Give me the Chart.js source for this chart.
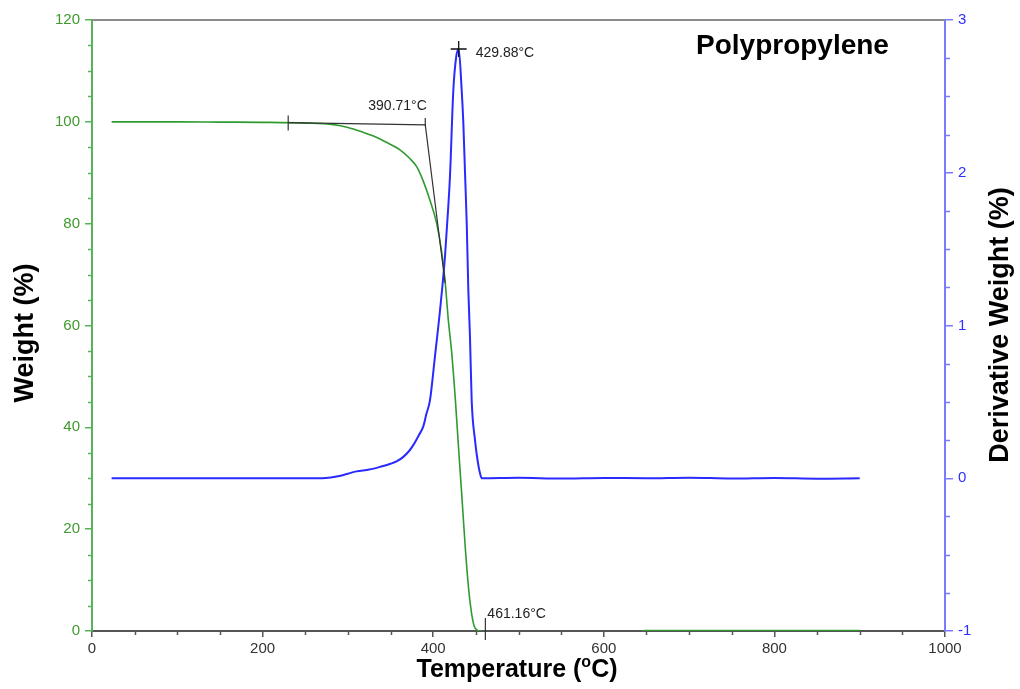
<!DOCTYPE html>
<html><head><meta charset="utf-8">
<script src="https://cdn.jsdelivr.net/npm/chart.js@4.4.0/dist/chart.umd.min.js"></script>
<style>html,body{margin:0;padding:0;background:#fff;}canvas{display:block;}</style>
</head><body>
<canvas id="c" width="1020" height="689"></canvas>
<script>
// ---- data ----
const weightTemp = [23, 100, 150, 200, 250, 283, 300, 317, 330, 345, 361, 372, 380.6, 388, 396.2, 404, 409.9, 413.8, 415.8, 417.7, 421.4, 426, 429.9, 433.9, 437.8, 441.7, 445.6, 448, 451.4, 455, 470, 640, 648, 900];
const weightPct  = [100, 100, 99.95, 99.9, 99.75, 99.45, 98.9, 98.0, 97.2, 96.0, 94.5, 92.9, 91.2, 88.5, 84.6, 80.1, 74.5, 69.0, 65.0, 61.1, 55.2, 45.4, 35.5, 25.7, 15.9, 8.0, 2.8, 1.0, 0.2, 0.0, -0.3, -0.3, 0.1, 0.1];

const derivTemp = [23, 100, 200, 270, 280, 290, 300, 310, 325, 338, 350, 357, 365, 372, 377, 383, 388.4, 392, 396.2, 402.1, 408, 413.8, 417.7, 419.7, 423.6, 427, 429.88, 433.4, 435.3, 437.3, 439.3, 441.2, 443.1, 445.1, 449, 452.5, 455, 457, 500, 550, 600, 650, 700, 750, 800, 850, 900];
const derivPct  = [0, 0, 0, 0, 0.005, 0.015, 0.03, 0.045, 0.057, 0.075, 0.095, 0.11, 0.14, 0.18, 0.22, 0.28, 0.34, 0.42, 0.51, 0.80, 1.10, 1.45, 1.78, 1.98, 2.54, 2.76, 2.81, 2.54, 2.33, 2.0, 1.67, 1.23, 0.93, 0.51, 0.25, 0.10, 0.03, 0, 0.003, -0.002, 0.002, 0, 0.004, -0.002, 0.002, -0.003, 0];

const onsetTemp   = [230, 390.71, 414];
const onsetWeight = [99.85, 99.4, 68.3];
const peakTemp  = [429.88];
const peakDeriv = [2.81];
const endTemp   = 461.16;

const chartTitle = 'Polypropylene';
const xTitle = 'Temperature (';
const xTitleSup = 'o';
const xTitleEnd = 'C)';
const yTitle = 'Weight (%)';
const y1Title = 'Derivative Weight (%)';
const onsetLabel = '390.71°C';
const peakLabel  = '429.88°C';
const endLabel   = '461.16°C';

const xRange = [0, 1000], xStep = 200, xMinor = 50;
const yRange = [0, 120], yStep = 20, yMinor = 5;
const y1Range = [-1, 3], y1Step = 1, y1Minor = 0.25;

const FONT = '"Liberation Sans", Arial, sans-serif';
const GREEN_AX = '#56b356', GREEN_TXT = '#3f9a2f', BLUE_AX = '#7a7aff', BLUE_TXT = '#2f2fff';

const pts = (xs, ys) => xs.map((v, i) => ({x: v, y: ys[i]}));

const decor = {
  id: 'decor',
  afterDraw(chart) {
    const {ctx, chartArea: a, scales: {x, y, y1}} = chart;
    ctx.save();
    ctx.strokeStyle = '#8c8c8c'; ctx.lineWidth = 2;
    ctx.beginPath(); ctx.moveTo(a.left, a.top); ctx.lineTo(a.right, a.top); ctx.stroke();
    ctx.lineWidth = 1.5;
    ctx.strokeStyle = GREEN_AX;
    for (let v = yRange[0]; v <= yRange[1]; v += yMinor) {
      if (v % yStep === 0) continue;
      const p = Math.round(y.getPixelForValue(v)) + 0.5;
      ctx.beginPath(); ctx.moveTo(a.left - 4, p); ctx.lineTo(a.left, p); ctx.stroke();
    }
    ctx.strokeStyle = BLUE_AX;
    for (let v = y1Range[0]; v <= y1Range[1] + 1e-9; v += y1Minor) {
      if (Math.abs(v - Math.round(v)) < 1e-9) continue;
      const p = Math.round(y1.getPixelForValue(v)) + 0.5;
      ctx.beginPath(); ctx.moveTo(a.right, p); ctx.lineTo(a.right + 5, p); ctx.stroke();
    }
    ctx.strokeStyle = '#555';
    for (let v = xRange[0]; v <= xRange[1]; v += xMinor) {
      if (v % xStep === 0) continue;
      const p = Math.round(x.getPixelForValue(v)) + 0.5;
      ctx.beginPath(); ctx.moveTo(p, a.bottom); ctx.lineTo(p, a.bottom + 4); ctx.stroke();
    }
    ctx.strokeStyle = '#333'; ctx.lineWidth = 1.2;
    const ox0 = x.getPixelForValue(onsetTemp[0]), oy0 = y.getPixelForValue(onsetWeight[0]);
    ctx.beginPath(); ctx.moveTo(ox0, oy0 - 7); ctx.lineTo(ox0, oy0 + 8); ctx.stroke();
    const ox1 = x.getPixelForValue(onsetTemp[1]), oy1 = y.getPixelForValue(onsetWeight[1]);
    ctx.beginPath(); ctx.moveTo(ox1, oy1 - 7); ctx.lineTo(ox1, oy1 + 1); ctx.stroke();
    const ex = x.getPixelForValue(endTemp);
    ctx.beginPath(); ctx.moveTo(ex, a.bottom - 13); ctx.lineTo(ex, a.bottom + 9); ctx.stroke();
    ctx.fillStyle = '#222'; ctx.font = '14px ' + FONT; ctx.textBaseline = 'middle'; ctx.textAlign = 'left';
    ctx.fillText(onsetLabel, ox1 - 57, oy1 - 19);
    const px = x.getPixelForValue(peakTemp[0]), py = y1.getPixelForValue(peakDeriv[0]);
    ctx.fillText(peakLabel, px + 17, py + 4);
    ctx.fillText(endLabel, ex + 2, a.bottom - 17);
    ctx.fillStyle = '#000'; ctx.font = 'bold 28px ' + FONT; ctx.textBaseline = 'alphabetic';
    ctx.fillText(chartTitle, 696, 54);
    ctx.font = 'bold 25px ' + FONT;
    const w1 = ctx.measureText(xTitle).width;
    ctx.font = 'bold 16px ' + FONT; const w2 = ctx.measureText(xTitleSup).width;
    ctx.font = 'bold 25px ' + FONT; const w3 = ctx.measureText(xTitleEnd).width;
    const sx = 517 - (w1 + w2 + w3) / 2;
    ctx.fillText(xTitle, sx, 677);
    ctx.font = 'bold 16px ' + FONT; ctx.fillText(xTitleSup, sx + w1, 667);
    ctx.font = 'bold 25px ' + FONT; ctx.fillText(xTitleEnd, sx + w1 + w2, 677);
    ctx.textAlign = 'center'; ctx.textBaseline = 'middle'; ctx.font = 'bold 27px ' + FONT;
    ctx.save(); ctx.translate(26, 333); ctx.rotate(-Math.PI / 2); ctx.fillText(yTitle, 0, 0); ctx.restore();
    ctx.save(); ctx.translate(1001, 325); ctx.rotate(-Math.PI / 2); ctx.fillText(y1Title, 0, 0); ctx.restore();
    ctx.restore();
  }
};

new Chart(document.getElementById('c'), {
  type: 'scatter',
  data: {
    datasets: [
      { label: 'onset', data: pts(onsetTemp, onsetWeight), showLine: true, yAxisID: 'y', borderColor: '#333', borderWidth: 1.2, pointRadius: 0, order: 0 },
      { label: 'peak', data: pts(peakTemp, peakDeriv), yAxisID: 'y1', pointStyle: 'cross', pointRadius: 8, pointBorderWidth: 1.3, borderColor: '#111', backgroundColor: '#111', order: 0, clip: false },
      { label: 'Derivative Weight', data: pts(derivTemp, derivPct), showLine: true, yAxisID: 'y1', borderColor: '#2a2aff', borderWidth: 2, pointRadius: 0, cubicInterpolationMode: 'monotone', order: 1 },
      { label: 'Weight', data: pts(weightTemp, weightPct), showLine: true, yAxisID: 'y', borderColor: '#2f9a2f', borderWidth: 1.6, pointRadius: 0, cubicInterpolationMode: 'monotone', order: 2 }
    ]
  },
  options: {
    responsive: false, animation: false,
    layout: { padding: { top: 20, left: 0, right: 0, bottom: 0 } },
    plugins: { legend: { display: false }, tooltip: { enabled: false } },
    scales: {
      x: {
        type: 'linear', position: 'bottom', min: xRange[0], max: xRange[1],
        ticks: { stepSize: xStep, color: '#333', font: { family: FONT, size: 15 }, padding: 3, maxRotation: 0, callback: v => String(v) },
        grid: { display: true, drawOnChartArea: false, drawTicks: true, tickLength: 6, color: '#555', lineWidth: 1.5 },
        border: { display: true, color: '#555', width: 2 },
        afterFit(s) { s.height = 58; }
      },
      y: {
        type: 'linear', position: 'left', min: yRange[0], max: yRange[1],
        ticks: { stepSize: yStep, color: GREEN_TXT, font: { family: FONT, size: 15 }, padding: 5, callback: v => String(v) },
        grid: { display: true, drawOnChartArea: false, drawTicks: true, tickLength: 7, color: GREEN_AX, lineWidth: 1.5 },
        border: { display: true, color: GREEN_AX, width: 2 },
        afterFit(s) { s.width = 92; }
      },
      y1: {
        type: 'linear', position: 'right', min: y1Range[0], max: y1Range[1],
        ticks: { stepSize: y1Step, color: BLUE_TXT, font: { family: FONT, size: 15 }, padding: 5, callback: v => String(v) },
        grid: { display: true, drawOnChartArea: false, drawTicks: true, tickLength: 8, color: BLUE_AX, lineWidth: 1.5 },
        border: { display: true, color: BLUE_AX, width: 2 },
        afterFit(s) { s.width = 75; }
      }
    }
  },
  plugins: [decor]
});
</script>
</body></html>
